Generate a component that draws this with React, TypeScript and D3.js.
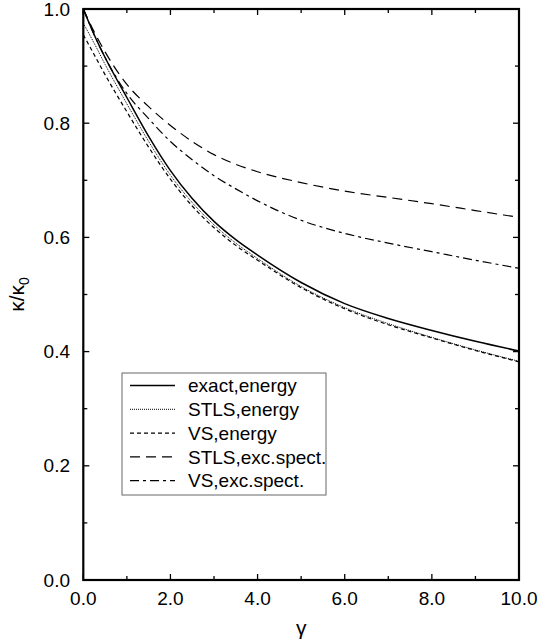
import React from "react";
import * as d3 from "d3";

const gammas = [0, 0.25, 0.5, 1, 1.5, 2, 2.5, 3, 3.5, 4, 5, 6, 7, 8, 9, 10];
const exactEnergy = [1.0, 0.955, 0.915, 0.845, 0.777, 0.717, 0.668, 0.628, 0.596, 0.569, 0.521, 0.484, 0.458, 0.437, 0.418, 0.401];
const stlsEnergy = [0.975, 0.94, 0.903, 0.834, 0.768, 0.709, 0.661, 0.622, 0.590, 0.563, 0.514, 0.477, 0.449, 0.425, 0.403, 0.383];
const vsEnergy = [0.955, 0.92, 0.885, 0.82, 0.758, 0.702, 0.655, 0.617, 0.586, 0.560, 0.512, 0.475, 0.447, 0.424, 0.402, 0.382];
const stlsExc = [1.0, 0.96, 0.925, 0.868, 0.829, 0.796, 0.768, 0.745, 0.728, 0.715, 0.696, 0.681, 0.670, 0.659, 0.647, 0.635];
const vsExc = [1.0, 0.955, 0.915, 0.852, 0.808, 0.768, 0.736, 0.708, 0.685, 0.664, 0.630, 0.607, 0.590, 0.575, 0.560, 0.546];

const seriesNames = ["exact,energy", "STLS,energy", "VS,energy", "STLS,exc.spect.", "VS,exc.spect."];
const xTickLabels = ["0.0", "2.0", "4.0", "6.0", "8.0", "10.0"];
const yTickLabels = ["0.0", "0.2", "0.4", "0.6", "0.8", "1.0"];

const FONT = "'Liberation Sans', Arial, Helvetica, sans-serif";

export default function App() {
  const W = 559, H = 641;
  const left = 83.3, right = 519, top = 9, bottom = 580;
  const x = d3.scaleLinear().domain([0, 10]).range([left, right]);
  const y = d3.scaleLinear().domain([0, 1]).range([bottom, top]);

  const allSeries = [exactEnergy, stlsEnergy, vsEnergy, stlsExc, vsExc];
  const styles = [
    { dash: "none", w: 1.5 },
    { dash: "1,1", w: 1 },
    { dash: "4,3", w: 1.2 },
    { dash: "10,6", w: 1.2 },
    { dash: "9,4,3,4", w: 1.2 },
  ];

  const line = d3
    .line<number>()
    .x((_, i) => x(gammas[i]))
    .y((d) => y(d))
    .curve(d3.curveMonotoneX);

  const xMinor = d3.range(0, 11, 1);
  const yMinor = d3.range(0, 11, 1).map((v) => v / 10);

  const legX = 122, legY = 373, legW = 204, legH = 122;
  const rowH = 23.8;

  return (
    <svg width={W} height={H} style={{ position: "absolute", left: 0, top: 0, background: "#fff" }} fontFamily={FONT}>
      <rect x={0} y={0} width={W} height={H} fill="#fff" />
      {allSeries.map((s, i) => (
        <path key={i} d={line(s) || ""} fill="none" stroke="#000" strokeWidth={styles[i].w} strokeDasharray={styles[i].dash} />
      ))}
      {xMinor.map((v) => {
        const major = v % 2 === 0;
        const len = major ? 6 : 4;
        return (
          <g key={"xt" + v}>
            <line x1={x(v)} x2={x(v)} y1={bottom} y2={bottom - len} stroke="#000" strokeWidth={1.3} />
            <line x1={x(v)} x2={x(v)} y1={top} y2={top + len} stroke="#000" strokeWidth={1.3} />
          </g>
        );
      })}
      {yMinor.map((v, i) => {
        const major = i % 2 === 0;
        const len = major ? 6 : 4;
        return (
          <g key={"yt" + i}>
            <line x1={left} x2={left + len} y1={y(v)} y2={y(v)} stroke="#000" strokeWidth={1.3} />
            <line x1={right} x2={right - len} y1={y(v)} y2={y(v)} stroke="#000" strokeWidth={1.3} />
          </g>
        );
      })}
      <rect x={left} y={top} width={right - left} height={bottom - top} fill="none" stroke="#000" strokeWidth={2.2} />
      {xTickLabels.map((t) => (
        <text key={"xl" + t} x={x(parseFloat(t))} y={605} textAnchor="middle" fontSize={19} fill="#000">
          {t}
        </text>
      ))}
      {yTickLabels.map((t) => (
        <text key={"yl" + t} x={70} y={y(parseFloat(t))} dy="0.35em" textAnchor="end" fontSize={19} fill="#000">
          {t}
        </text>
      ))}
      <text x={(left + right) / 2} y={635} textAnchor="middle" fontSize={21} fill="#000">
        γ
      </text>
      <text transform={`translate(24,${(top + bottom) / 2}) rotate(-90)`} textAnchor="middle" fontSize={21} fill="#000">
        κ/κ<tspan fontSize={14} dy="5">0</tspan>
      </text>
      <rect x={legX} y={legY} width={legW} height={legH} fill="#fff" stroke="#666" strokeWidth={1} />
      {seriesNames.map((n, i) => {
        const cy = legY + 12.5 + i * rowH;
        return (
          <g key={n}>
            <line x1={130} x2={175} y1={cy} y2={cy} stroke="#000" strokeWidth={styles[i].w} strokeDasharray={styles[i].dash} />
            <text x={188} y={cy} dy="0.35em" fontSize={19} fill="#000">
              {n}
            </text>
          </g>
        );
      })}
    </svg>
  );
}
